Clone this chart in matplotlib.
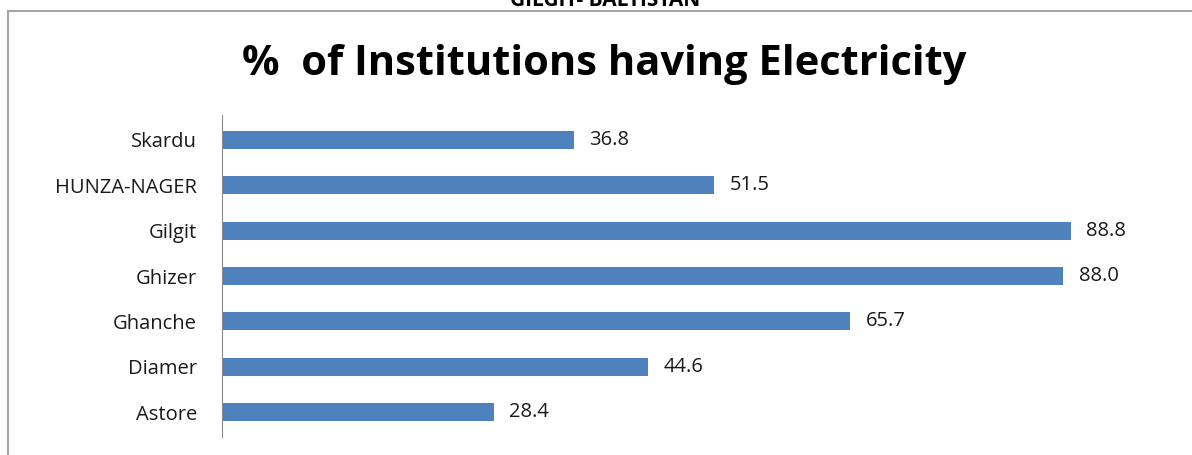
import matplotlib.pyplot as plt
from matplotlib.patches import Rectangle

plt.rcParams["font.family"] = ["Open Sans", "DejaVu Sans"]

districts = ["Astore", "Diamer", "Ghanche", "Ghizer", "Gilgit", "HUNZA-NAGER", "Skardu"]
pct_electricity = [28.4, 44.6, 65.7, 88.0, 88.8, 51.5, 36.8]

fig = plt.figure(figsize=(11.92, 4.55), dpi=100)
fig.patch.set_facecolor("white")

# outer frame (top and left visible, rest cropped off)
fig.add_artist(Rectangle((8 / 1192, -0.1), 1.2, 1 - 11 / 455 + 0.1,
                         transform=fig.transFigure, fill=False,
                         edgecolor="#a6a6a6", linewidth=1.5))
fig.text(0.508, 1.0, "GILGIT- BALTISTAN", ha="center", va="center",
         fontsize=15, fontweight="bold")
fig.text(0.507, 1 - 65 / 455, "%  of Institutions having Electricity",
         ha="center", va="center", fontsize=30, fontweight="bold")

ax = fig.add_axes([222 / 1192, 1 - 437 / 455, (1178 - 222) / 1192, (437 - 115) / 455])
ax.barh(districts, pct_electricity, height=0.4, color="#4f81bd")
for i, v in enumerate(pct_electricity):
    ax.text(v + 1.6, i, f"{v:.1f}", va="center", ha="left", fontsize=14.5, color="#1a1a1a")

ax.set_xlim(0, 100)
ax.set_ylim(-0.55, 6.55)
ax.set_xticks([])
for side in ["top", "right", "bottom"]:
    ax.spines[side].set_visible(False)
ax.spines["left"].set_color("#888888")
ax.tick_params(axis="y", length=0, pad=18, labelsize=14.5, labelcolor="#1a1a1a")

fig.savefig("out.png", dpi=100)
